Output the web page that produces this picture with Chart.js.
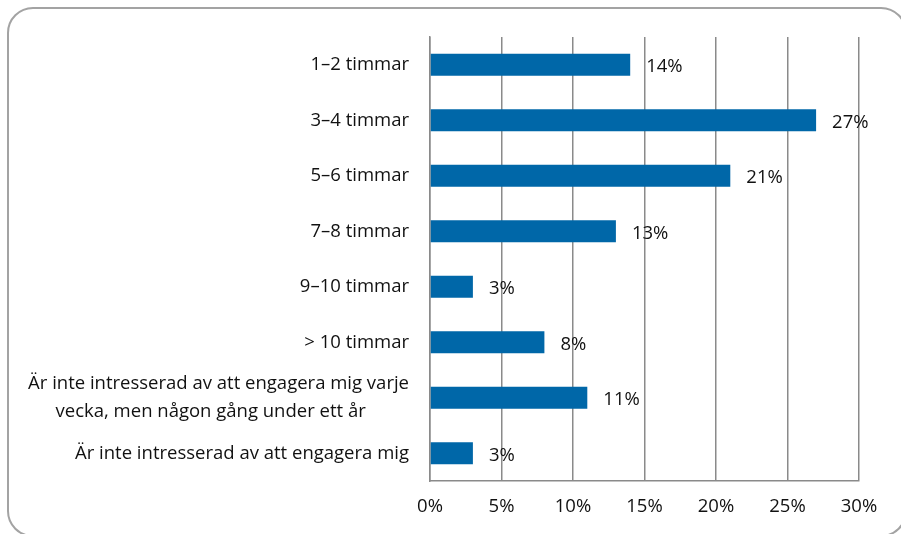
<!DOCTYPE html>
<html>
<head>
<meta charset="utf-8">
<script src="https://cdn.jsdelivr.net/npm/chart.js@4/dist/chart.umd.min.js"></script>
<style>
  html, body { margin: 0; padding: 0; background: #fff; overflow: hidden; }
  #wrap { position: relative; width: 901px; height: 534px; }
  #frame {
    position: absolute; left: 7px; top: 7px; width: 900px; height: 530px;
    border: 2px solid #a3a3a3; border-radius: 26px; box-sizing: border-box;
  }
  canvas { position: absolute; left: 0; top: 0; }
</style>
</head>
<body>
<div id="wrap">
  <div id="frame"></div>
  <canvas id="chart" width="901" height="534"></canvas>
</div>
<script>
// categories and values (percent)
const categories = [
    '1–2 timmar',
    '3–4 timmar',
    '5–6 timmar',
    '7–8 timmar',
    '9–10 timmar',
    '> 10 timmar',
    ['Är inte intresserad av att engagera mig varje', 'vecka, men någon gång under ett år'],
    'Är inte intresserad av att engagera mig'
]
const shares = [14, 27, 21, 13, 3, 8, 11, 3]
const xTicks = [0, 5, 10, 15, 20, 25, 30]

const FONT = { family: "'Open Sans', sans-serif", size: 18.5 }
const gridGray = '#8a8a8a'

// value labels to the right of each bar
const barLabels = {
    id: 'barLabels',
    afterDatasetsDraw(chart) {
        const ctx = chart.ctx
        const meta = chart.getDatasetMeta(0)
        ctx.save()
        ctx.font = FONT.size + 'px ' + FONT.family
        ctx.fillStyle = '#111'
        ctx.textAlign = 'left'
        ctx.textBaseline = 'middle'
        meta.data.forEach((bar, i) => {
            ctx.fillText(shares[i] + '%', bar.x + 16, bar.y + 2)
        })
        ctx.restore()
    }
}

const noPad = (scale) => {
    scale.paddingTop = 0
    scale.paddingBottom = 0
}

// wrapped label: second line sits a bit left of the axis, like in the original
const tickLabel = (i) => {
    const c = categories[i]
    if (Array.isArray(c)) return [c[0], c[1] + '\u00a0'.repeat(9)]
    return c
}

const chart = new Chart(document.getElementById('chart'), {
    type: 'bar',
    data: {
        labels: categories,
        datasets: [
            {
                data: shares,
                backgroundColor: '#0067a8',
                borderWidth: 0,
                barPercentage: 0.4,
                categoryPercentage: 1
            }
        ]
    },
    options: {
        indexAxis: 'y',
        responsive: false,
        animation: false,
        layout: { padding: { top: 37, right: 42, left: 0, bottom: 0 } },
        plugins: {
            legend: { display: false },
            tooltip: { enabled: false }
        },
        scales: {
            x: {
                min: 0,
                max: 30,
                afterBuildTicks: (scale) => {
                    scale.ticks = xTicks.map((v) => ({ value: v }))
                },
                afterFit: (scale) => { scale.height = 53 },
                grid: { color: gridGray, lineWidth: 1.5, drawTicks: false },
                border: { display: true, color: gridGray, width: 1.5 },
                ticks: {
                    padding: 15,
                    color: '#111',
                    font: FONT,
                    callback: (v) => v + '%'
                }
            },
            y: {
                afterFit: (scale) => {
                    scale.width = 430
                    noPad(scale)
                },
                grid: { display: false, drawTicks: false },
                border: { display: true, color: gridGray, width: 1.5 },
                ticks: {
                    autoSkip: false,
                    padding: 21,
                    color: '#111',
                    font: { ...FONT, lineHeight: 1.47 },
                    callback: (v, i) => tickLabel(i)
                }
            }
        }
    },
    plugins: [barLabels]
})
</script>
</body>
</html>
